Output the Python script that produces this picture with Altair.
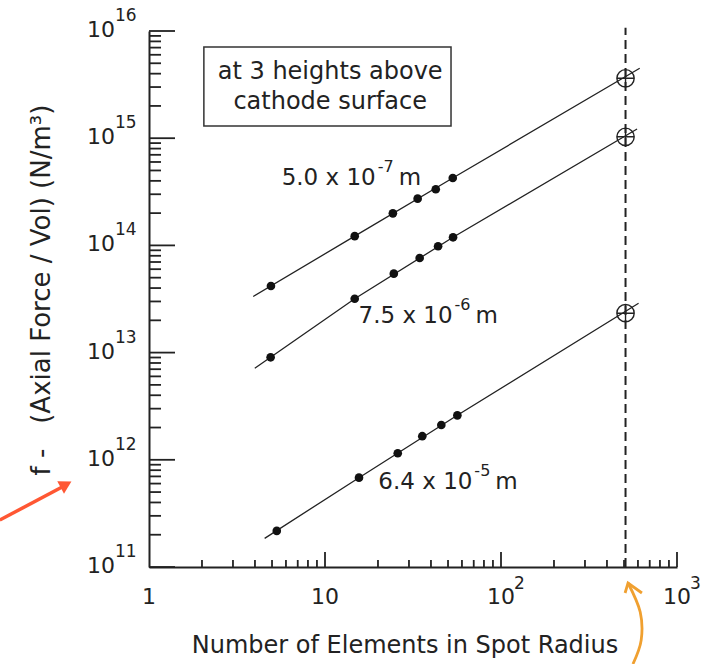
import altair as alt
import pandas as pd

# ---------------- data ----------------
series_names = ["5.0e-7 m", "7.5e-6 m", "6.4e-5 m"]
s1_x = [4.93, 14.75, 24.3, 33.6, 42.6, 53.2]
s1_y = [4.18e13, 1.22e14, 1.99e14, 2.73e14, 3.34e14, 4.25e14]
s2_x = [4.91, 14.75, 24.6, 34.5, 43.9, 53.4]
s2_y = [9.04e12, 3.18e13, 5.45e13, 7.63e13, 9.81e13, 1.19e14]
s3_x = [5.32, 15.6, 25.9, 35.7, 45.8, 56.5]
s3_y = [2.17e11, 6.81e11, 1.15e12, 1.66e12, 2.11e12, 2.60e12]

# fit lines as drawn (vertices)
fit_x = [[3.91, 14.75, 53.2, 614],
         [3.99, 14.75, 53.4, 593],
         [4.54, 15.6, 56.5, 605]]
fit_y = [[3.34e13, 1.22e14, 4.25e14, 4.49e15],
         [7.14e12, 3.18e13, 1.19e14, 1.22e15],
         [1.85e11, 6.81e11, 2.60e12, 2.89e13]]

# extrapolated values at the dashed line
extrap_x = [510, 510, 510]
extrap_y = [3.62e15, 1.03e15, 2.33e13]
dash_x = [510]
dash_y = [1e11]
dash_y2 = [1.07e16]

# series labels
lab_base = ["5.0 x 10", "7.5 x 10", "6.4 x 10"]
lab_exp = ["-7", "-6", "-5"]
lab_x = [5.67, 15.5, 20.1]
lab_y = [4.25e14, 2.19e13, 6.21e11]

# note box
box_x = [2.05]
box_x2 = [52.0]
box_y = [1.30e15]
box_y2 = [7.1e15]
box_text = ["at 3 heights above", "cathode surface"]
box_text_x = [10.7, 10.7]
box_text_y = [4.15e15, 2.18e15]

# axis ticks / labels
y_decades = [1e11, 1e12, 1e13, 1e14, 1e15, 1e16]
y_exp_labels = ["11", "12", "13", "14", "15", "16"]
x_decades = [1, 10, 100, 1000]
x_base_labels = ["1", "10", "10", "10"]
x_exp_labels = ["", "", "2", "3"]
minor_mult = [2, 3, 4, 5, 6, 7, 8, 9]

# annotation arrows
red_x = [0.142, 0.329]
red_y = [2.74e11, 5.70e11]
red_head_x = [0.3377]
red_head_y = [5.88e11]
orange_x = [562, 626, 618, 527]
orange_y = [1.245e10, 2.08e10, 3.80e10, 7.09e10]
chev_x = [507, 527, 632]
chev_y = [5.72e10, 7.09e10, 5.72e10]

NB = "\u00a0"
x_title = "Number of Elements in Spot Radius"
y_title = "f" + NB + "-" + NB + NB + NB + "(Axial Force / Vol) (N/m\u00b3)"

# ---------------- build ----------------
W, H = 528, 536
FONT = "DejaVu Sans"
INK = "#222222"
xs = alt.Scale(type="log", domain=[1, 1000])
ys = alt.Scale(type="log", domain=[1e11, 1e16])


def X(f="x"):
    return alt.X(f"{f}:Q", scale=xs, title=None)


def Y(f="y"):
    return alt.Y(f"{f}:Q", scale=ys, title=None)


pts = pd.DataFrame({
    "x": s1_x + s2_x + s3_x,
    "y": s1_y + s2_y + s3_y,
    "s": [series_names[0]] * 6 + [series_names[1]] * 6 + [series_names[2]] * 6,
})
fit_rows = []
for i, n in enumerate(series_names):
    for j in range(len(fit_x[i])):
        fit_rows.append({"x": fit_x[i][j], "y": fit_y[i][j], "s": n, "o": j})
fits = pd.DataFrame(fit_rows)

lines = alt.Chart(fits).mark_line(color=INK, strokeWidth=1.3).encode(
    x=X(), y=Y(), detail="s:N", order="o:Q")
points = alt.Chart(pts).mark_point(filled=True, color="#111111", size=75, opacity=1).encode(
    x=X(), y=Y())

ring_path = "M-1,0A1,1,0,1,0,1,0A1,1,0,1,0,-1,0M-1,0L1,0M0,-1L0,1"
extrap = alt.Chart(pd.DataFrame({"x": extrap_x, "y": extrap_y})).mark_point(
    shape=ring_path, filled=False, size=300, color=INK, strokeWidth=1.4, opacity=1).encode(
    x=X(), y=Y())

dash = alt.Chart(pd.DataFrame({"x": dash_x, "y": dash_y, "y2": dash_y2})).mark_rule(
    color=INK, strokeWidth=2, strokeDash=[9, 5]).encode(x=X(), y=Y(), y2="y2:Q")

box = alt.Chart(pd.DataFrame({"x": box_x, "x2": box_x2, "y": box_y, "y2": box_y2})).mark_rect(
    fill="white", stroke="#333333", strokeWidth=1.5).encode(x=X(), x2="x2:Q", y=Y(), y2="y2:Q")
box_txt = alt.Chart(pd.DataFrame({"x": box_text_x, "y": box_text_y, "t": box_text})).mark_text(
    font=FONT, fontSize=24, color=INK, align="center", baseline="middle").encode(
    x=X(), y=Y(), text="t:N")

labs = pd.DataFrame({"x": lab_x, "y": lab_y, "b": lab_base, "e": lab_exp, "m": ["m"] * 3})
lab_b = alt.Chart(labs).mark_text(font=FONT, fontSize=23, color=INK, align="left",
                                  baseline="middle").encode(x=X(), y=Y(), text="b:N")
lab_e = alt.Chart(labs).mark_text(font=FONT, fontSize=16, color=INK, align="left",
                                  baseline="middle", dx=96, dy=-11).encode(x=X(), y=Y(), text="e:N")
lab_m = alt.Chart(labs).mark_text(font=FONT, fontSize=23, color=INK, align="left",
                                  baseline="middle", dx=117).encode(x=X(), y=Y(), text="m:N")

# ticks
y_minor = [m * d for d in y_decades[:-1] for m in minor_mult]
x_minor = [m * d for d in x_decades[:-1] for m in minor_mult]
ymaj = alt.Chart(pd.DataFrame({"v": y_decades})).mark_rule(color=INK, strokeWidth=1.8).encode(
    y=Y("v"), x=alt.value(0), x2=alt.value(26))
ymin = alt.Chart(pd.DataFrame({"v": y_minor})).mark_rule(color=INK, strokeWidth=1.8).encode(
    y=Y("v"), x=alt.value(0), x2=alt.value(12))
xmaj = alt.Chart(pd.DataFrame({"v": x_decades[1:]})).mark_rule(color=INK, strokeWidth=1.8).encode(
    x=X("v"), y=alt.value(H), y2=alt.value(H - 15))
xmin = alt.Chart(pd.DataFrame({"v": x_minor})).mark_rule(color=INK, strokeWidth=1.8).encode(
    x=X("v"), y=alt.value(H), y2=alt.value(H - 7))

# tick labels
ylab_df = pd.DataFrame({"v": y_decades, "b": ["10"] * 6, "e": y_exp_labels})
ylab_b = alt.Chart(ylab_df).mark_text(font=FONT, fontSize=22, color=INK, align="right",
                                      baseline="middle", dy=-1).encode(
    y=Y("v"), x=alt.value(-34), text="b:N")
ylab_e = alt.Chart(ylab_df).mark_text(font=FONT, fontSize=17, color=INK, align="left",
                                      baseline="middle", dy=-15).encode(
    y=Y("v"), x=alt.value(-34), text="e:N")
xlab_df = pd.DataFrame({"v": x_decades, "b": x_base_labels, "e": x_exp_labels})
xlab_b = alt.Chart(xlab_df).mark_text(font=FONT, fontSize=22, color=INK, align="center",
                                      baseline="middle").encode(
    x=X("v"), y=alt.value(H + 30), text="b:N")
xlab_e = alt.Chart(xlab_df).mark_text(font=FONT, fontSize=17, color=INK, align="left",
                                      baseline="middle", dx=13, dy=-13).encode(
    x=X("v"), y=alt.value(H + 30), text="e:N")

# axis titles
xt = alt.Chart(pd.DataFrame({"t": [x_title]})).mark_text(
    font=FONT, fontSize=24, color=INK, align="center", baseline="middle").encode(
    x=alt.value(256), y=alt.value(615), text="t:N")
yt = alt.Chart(pd.DataFrame({"t": [y_title]})).mark_text(
    font=FONT, fontSize=26, color=INK, align="center", baseline="middle", angle=270).encode(
    x=alt.value(-107), y=alt.value(259), text="t:N")

# annotation arrows
red = alt.Chart(pd.DataFrame({"x": red_x, "y": red_y, "o": [0, 1]})).mark_line(
    color="#FF5733", strokeWidth=3.5).encode(x=X(), y=Y(), order="o:Q")
red_head = alt.Chart(pd.DataFrame({"x": red_head_x, "y": red_head_y})).mark_point(
    shape="triangle-right", filled=True, color="#FF5733", size=200, angle=331.6, opacity=1).encode(
    x=X(), y=Y())
orange = alt.Chart(pd.DataFrame({"x": orange_x, "y": orange_y, "o": [0, 1, 2, 3]})).mark_line(
    color="#F0A030", strokeWidth=2.8, interpolate="cardinal").encode(x=X(), y=Y(), order="o:Q")
chev = alt.Chart(pd.DataFrame({"x": chev_x, "y": chev_y, "o": [0, 1, 2]})).mark_line(
    color="#F0A030", strokeWidth=2.8).encode(x=X(), y=Y(), order="o:Q")

chart = alt.layer(
    box, box_txt, dash, lines, points, extrap,
    lab_b, lab_e, lab_m,
    ymaj, ymin, xmaj, xmin,
    ylab_b, ylab_e, xlab_b, xlab_e, xt, yt,
    red, red_head, orange, chev,
).properties(
    width=W, height=H,
    autosize=alt.AutoSizeParams(type="none"),
    padding={"left": 149, "top": 31, "right": 43, "bottom": 97},
    background="white",
).configure_view(stroke=None).configure_axis(
    domain=True, domainColor=INK, domainWidth=2, ticks=False, labels=False, grid=False, title=None
)

chart.save("out.html", embed_options={"renderer": "svg", "actions": False})
